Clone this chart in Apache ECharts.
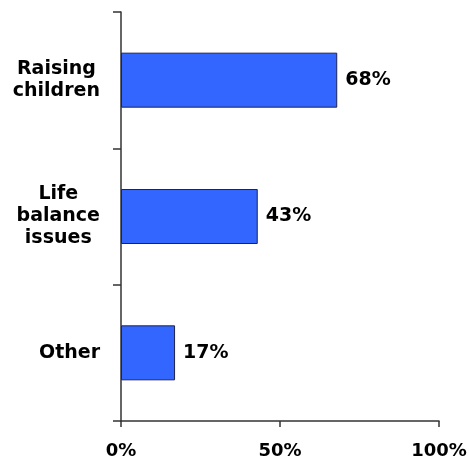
<!DOCTYPE html>
<html>
<head>
<meta charset="utf-8">
<style>
  html, body { margin: 0; padding: 0; background: #fff; }
  #chart { width: 469px; height: 456px; }
</style>
<script src="https://cdn.jsdelivr.net/npm/echarts@6/dist/echarts.min.js"></script>
</head>
<body>
<div id="chart"></div>
<script>
// Reasons given, share of respondents (%)
const categories = [
  ['Raising', 'children'],
  ['Life', 'balance', 'issues'],
  ['Other']
];
const shares = [68, 43, 17];
const xTicks = [0, 50, 100];

const FONT = '"DejaVu Sans", Verdana, sans-serif';
const AXIS_COLOR = '#333333';

const chart = echarts.init(document.getElementById('chart'), null, { renderer: 'canvas' });

chart.setOption({
  animation: false,
  backgroundColor: '#ffffff',
  grid: {
    left: 121, right: 30, top: 12, bottom: 35,
    containLabel: false,
    outerBoundsMode: 'none'
  },
  xAxis: {
    type: 'value',
    min: xTicks[0],
    max: xTicks[xTicks.length - 1],
    interval: xTicks[1] - xTicks[0],
    axisLine: { show: true, lineStyle: { color: AXIS_COLOR, width: 1.5 } },
    axisTick: { show: true, length: 6, lineStyle: { color: AXIS_COLOR, width: 1.5 } },
    splitLine: { show: false },
    axisLabel: {
      margin: 21,
      formatter: v => v + '%',
      fontFamily: FONT,
      fontWeight: 'bold',
      fontSize: 18,
      color: '#000'
    }
  },
  yAxis: {
    type: 'category',
    inverse: true,
    data: categories.map(lines => lines.join('\n')),
    axisLine: { show: true, lineStyle: { color: AXIS_COLOR, width: 1.5 } },
    axisTick: { show: true, length: 8, alignWithLabel: false, lineStyle: { color: AXIS_COLOR, width: 1.5 } },
    splitLine: { show: false },
    axisLabel: {
      margin: 21,
      align: 'right',
      formatter: v => v.split('\n').map(s => '{c|' + s + '}').join('\n'),
      rich: {
        c: {
          align: 'center',
          fontFamily: FONT,
          fontWeight: 'bold',
          fontSize: 19,
          lineHeight: 22,
          color: '#000'
        }
      }
    }
  },
  series: [{
    type: 'bar',
    data: shares,
    barWidth: 55,
    itemStyle: { color: '#3366ff', borderColor: '#1c2450', borderWidth: 1 },
    label: {
      show: true,
      position: 'right',
      distance: 8,
      formatter: p => p.value + '%',
      fontFamily: FONT,
      fontWeight: 'bold',
      fontSize: 19,
      color: '#000'
    }
  }]
});
</script>
</body>
</html>
